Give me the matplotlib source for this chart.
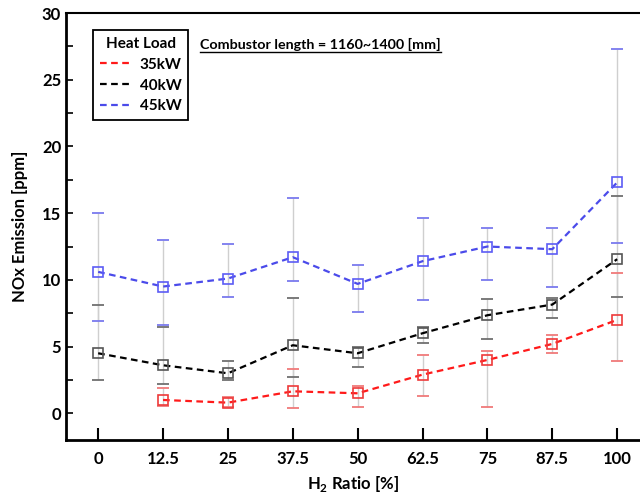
import matplotlib
matplotlib.use("Agg")
import matplotlib.pyplot as plt
from matplotlib.lines import Line2D
from matplotlib.ticker import MultipleLocator

plt.rcParams["font.family"] = ["Lato", "DejaVu Sans"]
plt.rcParams["font.weight"] = "bold"
plt.rcParams["mathtext.fontset"] = "custom"
plt.rcParams["mathtext.rm"] = "Lato:bold"
plt.rcParams["mathtext.bf"] = "Lato:bold"

# H2 ratio [%]
h2 = [0, 12.5, 25, 37.5, 50, 62.5, 75, 87.5, 100]
h2_35 = [12.5, 25, 37.5, 50, 62.5, 75, 87.5, 100]

# 45 kW
nox_45 = [10.6, 9.5, 10.1, 11.7, 9.7, 11.4, 12.5, 12.3, 17.3]
up_45 = [15.0, 13.0, 12.7, 16.1, 11.1, 14.6, 13.9, 13.9, 27.3]
lo_45 = [6.9, 6.6, 8.7, 9.9, 7.6, 8.5, 10.0, 9.5, 12.8]

# 40 kW
nox_40 = [4.5, 3.6, 3.0, 5.1, 4.5, 6.0, 7.35, 8.15, 11.55]
up_40 = [8.1, 6.45, 3.9, 8.65, 4.95, 6.5, 8.6, 8.65, 16.3]
lo_40 = [2.5, 2.2, 2.5, 2.7, 3.5, 5.3, 5.6, 7.15, 8.75]

# 35 kW (no point at 0 %)
nox_35 = [1.0, 0.8, 1.65, 1.5, 2.9, 4.0, 5.2, 7.0]
up_35 = [1.9, 1.25, 3.3, 2.05, 4.4, 4.7, 5.85, 10.55]
lo_35 = [0.55, 0.45, 0.4, 0.5, 1.3, 0.5, 4.5, 3.9]

series = [
    ("35kW", h2_35, nox_35, up_35, lo_35, "#ff1a1a", "#ee3a3a", "#f07a7a"),
    ("40kW", h2, nox_40, up_40, lo_40, "#000000", "#555555", "#707070"),
    ("45kW", h2, nox_45, up_45, lo_45, "#4b4bea", "#5c5cf5", "#7a7aee"),
]

W, H = 640, 497
fig = plt.figure(figsize=(W / 100, H / 100), dpi=100)
ax = fig.add_axes([66 / W, 1 - 440 / H, (W - 66) / W, (440 - 13) / H])

handles = []
for label, xs, ys, up, lo, lc, mc, cc in series:
    ax.vlines(xs, lo, up, color="#cfcfcf", lw=1.0, zorder=1)
    ax.plot(xs, up, ls="none", marker="_", ms=8, mew=1.3, color=cc, zorder=2)
    ax.plot(xs, lo, ls="none", marker="_", ms=8, mew=1.3, color=cc, zorder=2)
    ax.plot(xs, ys, ls=(0, (3, 2)), lw=1.6, color=lc, zorder=3)
    ax.plot(xs, ys, ls="none", marker="s", ms=7.5, mfc="none", mec=mc, mew=1.2, zorder=4)
    handles.append(Line2D([0], [0], ls=(0, (3, 2)), lw=1.6, color=lc, label=label))

ax.set_xlim(-6.2, 104.4)
ax.set_ylim(-2, 30)
ax.set_xticks(h2)
ax.set_xticklabels(["0", "12.5", "25", "37.5", "50", "62.5", "75", "87.5", "100"])
ax.yaxis.set_major_locator(MultipleLocator(5))
ax.yaxis.set_minor_locator(MultipleLocator(2.5))
ax.tick_params(axis="x", direction="in", length=9, width=1.5, labelsize=12, pad=8)
ax.tick_params(axis="y", which="both", direction="in", length=5, width=1.2, labelsize=12)
for t in ax.get_xticklabels() + ax.get_yticklabels():
    t.set_fontweight("bold")

for side in ["left", "bottom"]:
    ax.spines[side].set_linewidth(2)
ax.spines["top"].set_linewidth(1.5)
ax.spines["right"].set_visible(False)

ax.set_xlabel(r"H$_2$ Ratio [%]", fontsize=12, fontweight="bold", labelpad=5)
ax.set_ylabel("NOx Emission [ppm]", fontsize=12, fontweight="bold", labelpad=10)

leg = ax.legend(handles=handles, title="Heat Load", loc="upper left",
                bbox_to_anchor=(93 / W, 1 - 30 / H), bbox_transform=fig.transFigure,
                fancybox=False, edgecolor="black", framealpha=1,
                handlelength=2.0, handletextpad=0.6, borderpad=0.45,
                borderaxespad=0, labelspacing=0.45,
                prop={"weight": "bold", "size": 11},
                title_fontproperties={"weight": "bold", "size": 11})
leg.get_frame().set_linewidth(1.3)

txt = fig.text(200 / W, 1 - 44 / H, "Combustor length = 1160~1400 [mm]",
               fontsize=10.3, fontweight="bold", va="center", ha="left")
fig.canvas.draw()
bb = txt.get_window_extent(fig.canvas.get_renderer())
fig.add_artist(Line2D([bb.x0 / W, bb.x1 / W], [(bb.y0 - 1) / H, (bb.y0 - 1) / H],
                      color="black", lw=1.0, transform=fig.transFigure))

fig.savefig("out.png", dpi=100)
